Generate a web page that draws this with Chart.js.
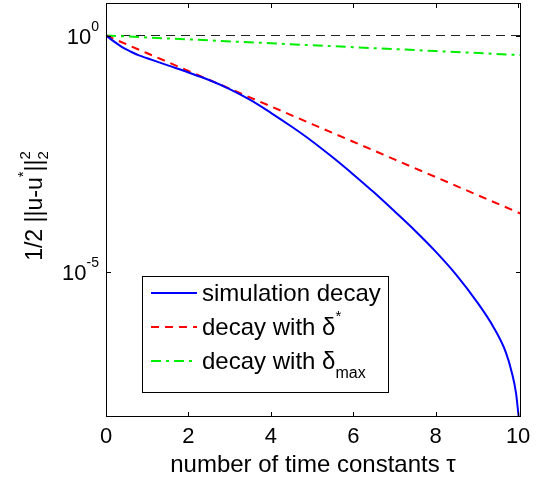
<!DOCTYPE html>
<html>
<head>
<meta charset="utf-8">
<script src="https://cdn.jsdelivr.net/npm/chart.js@4"></script>
<style>
  html, body { margin: 0; padding: 0; background: #fff; }
  #wrap { width: 542px; height: 478px; }
</style>
</head>
<body>
<div id="wrap"><canvas id="decayChart" width="542" height="478"></canvas></div>
<script>
// data
const simX = [0, 0.2, 0.4, 0.6, 0.8, 1, 1.5, 2, 2.5, 3, 3.5, 4, 4.5, 5, 5.5, 6, 6.5, 7, 7.5, 8, 8.5, 9, 9.4, 9.7, 9.85, 9.95, 10.02];
const simY = [1, 0.741, 0.562, 0.457, 0.380, 0.331, 0.234, 0.166, 0.115, 0.0741, 0.0437, 0.0234, 0.0120, 0.00589,
              0.00269, 0.00117, 4.90e-4, 1.95e-4, 7.59e-5, 2.75e-5, 8.91e-6, 2.40e-6, 7.08e-7, 2.09e-7, 7.59e-8, 2.82e-8, 7.94e-9];
const starX = [0, 1, 2, 3, 4, 5, 6, 7, 8, 9, 10, 10.07];
const starY = [1, 0.423, 0.179, 0.0757, 0.0320, 0.0135, 0.00574, 0.00243, 0.00103, 4.35e-4, 1.84e-4, 1.73e-4];
const maxX = [0, 2, 4, 6, 8, 10, 10.07];
const maxY = [1, 0.828, 0.685, 0.567, 0.470, 0.389, 0.386];
const refX = [0, 10.07];
const refY = [1, 1];

const xTicks = [0, 2, 4, 6, 8, 10];
const yTicks = [1e-5, 1];
const yTickExp = ["-5", "0"];   // same order as yTicks

const FONT = '"Liberation Sans", Arial, sans-serif';

function pts(xs, ys) {
    return xs.map((x, i) => ({ x: x, y: ys[i] }));
}

// text built from pieces {t, size, dy, stack}
function richWidth(ctx, parts) {
    let w = 0;
    parts.forEach(p => {
        if (p.stack) return;
        ctx.font = p.size + "px " + FONT;
        w += ctx.measureText(p.t).width;
    });
    return w;
}
function drawRich(ctx, parts, x, y, align) {
    const w = richWidth(ctx, parts);
    let cx = align === "right" ? x - w : align === "center" ? x - w / 2 : x;
    let lastX = cx;
    parts.forEach(p => {
        ctx.font = p.size + "px " + FONT;
        if (p.stack) {
            ctx.fillText(p.t, lastX, y + (p.dy || 0));
            return;
        }
        lastX = cx;
        ctx.fillText(p.t, cx, y + (p.dy || 0));
        cx += ctx.measureText(p.t).width;
    });
}

/* ============================
   MATLAB-STYLE FRAME, TEXTS, LEGEND
============================ */
const matlabFrame = {
    id: "matlabFrame",
    afterDraw(chart) {
        const ctx = chart.ctx;
        const a = chart.chartArea;
        const xs = chart.scales.x, ys = chart.scales.y;
        ctx.save();
        ctx.strokeStyle = "#000";
        ctx.fillStyle = "#000";
        ctx.lineWidth = 1;

        // box
        ctx.strokeRect(Math.round(a.left) + 0.5, Math.round(a.top) + 0.5,
                       Math.round(a.right - a.left) - 1, Math.round(a.bottom - a.top) - 1);

        // inward ticks
        const tl = 5;
        ctx.beginPath();
        xTicks.forEach(v => {
            const px = Math.round(xs.getPixelForValue(v)) + 0.5;
            ctx.moveTo(px, a.bottom); ctx.lineTo(px, a.bottom - tl);
            ctx.moveTo(px, a.top); ctx.lineTo(px, a.top + tl);
        });
        yTicks.forEach(v => {
            const py = Math.round(ys.getPixelForValue(v)) + 0.5;
            ctx.moveTo(a.left, py); ctx.lineTo(a.left + tl, py);
            ctx.moveTo(a.right, py); ctx.lineTo(a.right - tl, py);
        });
        ctx.stroke();

        // tick labels
        ctx.textBaseline = "alphabetic";
        xTicks.forEach(v => {
            drawRich(ctx, [{ t: String(v), size: 22 }], xs.getPixelForValue(v), 443, "center");
        });
        yTicks.forEach((v, i) => {
            const py = ys.getPixelForValue(v);
            drawRich(ctx, [{ t: "10", size: 22 }, { t: yTickExp[i], size: 14, dy: -13 }], 99, py + 8, "right");
        });

        // axis titles
        drawRich(ctx, [{ t: "number of time constants τ", size: 24 }], 313, 472, "center");

        ctx.save();
        ctx.translate(42, 206);
        ctx.rotate(-Math.PI / 2);
        drawRich(ctx, [
            { t: "1/2 ||u-u", size: 23 },
            { t: "*", size: 15, dy: -14 },
            { t: "||", size: 23 },
            { t: "2", size: 15, dy: 6 },
            { t: "2", size: 15, dy: -12, stack: true }
        ], 0, 0, "center");
        ctx.restore();

        // legend
        const lg = { left: 142, top: 276, right: 389, bottom: 393 };
        ctx.fillStyle = "#fff";
        ctx.fillRect(lg.left, lg.top, lg.right - lg.left, lg.bottom - lg.top);
        ctx.strokeStyle = "#000";
        ctx.strokeRect(lg.left + 0.5, lg.top + 0.5, lg.right - lg.left - 1, lg.bottom - lg.top - 1);

        const rows = [
            { ds: chart.data.datasets[0], y: 293, text: [{ t: "simulation decay", size: 24 }] },
            { ds: chart.data.datasets[1], y: 327, text: [{ t: "decay with δ", size: 24 }, { t: "*", size: 15, dy: -14 }] },
            { ds: chart.data.datasets[2], y: 361, text: [{ t: "decay with δ", size: 24 }, { t: "max", size: 16, dy: 9 }] }
        ];
        rows.forEach(r => {
            ctx.save();
            ctx.strokeStyle = r.ds.borderColor;
            ctx.lineWidth = r.ds.borderWidth;
            ctx.setLineDash(r.ds.borderDash || []);
            ctx.beginPath();
            ctx.moveTo(151, r.y); ctx.lineTo(197, r.y);
            ctx.stroke();
            ctx.restore();
            ctx.fillStyle = "#000";
            drawRich(ctx, r.text, 202, r.y + 8, "left");
        });

        ctx.restore();
    }
};

new Chart(document.getElementById("decayChart"), {
    type: "line",
    data: {
        datasets: [
            {
                label: "simulation decay",
                data: pts(simX, simY),
                borderColor: "#0000ff",
                borderWidth: 2,
                pointRadius: 0,
                cubicInterpolationMode: "monotone"
            },
            {
                label: "decay with δ*",
                data: pts(starX, starY),
                borderColor: "#ff0000",
                borderWidth: 2,
                borderDash: [8, 6],
                pointRadius: 0
            },
            {
                label: "decay with δmax",
                data: pts(maxX, maxY),
                borderColor: "#00ee00",
                borderWidth: 2,
                borderDash: [10, 5, 3, 5],
                pointRadius: 0
            },
            {
                label: "reference",
                data: pts(refX, refY),
                borderColor: "#222222",
                borderWidth: 1,
                borderDash: [9, 6],
                pointRadius: 0
            }
        ]
    },
    options: {
        responsive: false,
        animation: false,
        events: [],
        layout: { padding: { left: 106, top: 3, right: 21, bottom: 61 } },
        plugins: {
            legend: { display: false },
            tooltip: { enabled: false }
        },
        scales: {
            x: {
                type: "linear",
                min: 0,
                max: 10.07,
                afterBuildTicks: s => { s.ticks = xTicks.map(v => ({ value: v })); },
                afterFit: s => { s.height = 0; s.paddingLeft = 0; s.paddingRight = 0; },
                ticks: { display: false },
                grid: { display: false },
                border: { display: false }
            },
            y: {
                type: "logarithmic",
                min: 8.91e-9,
                max: 4.853,
                afterBuildTicks: s => { s.ticks = yTicks.map(v => ({ value: v })); },
                afterFit: s => { s.width = 0; s.paddingTop = 0; s.paddingBottom = 0; },
                ticks: { display: false },
                grid: { display: false },
                border: { display: false }
            }
        }
    },
    plugins: [matlabFrame]
});
</script>
</body>
</html>
